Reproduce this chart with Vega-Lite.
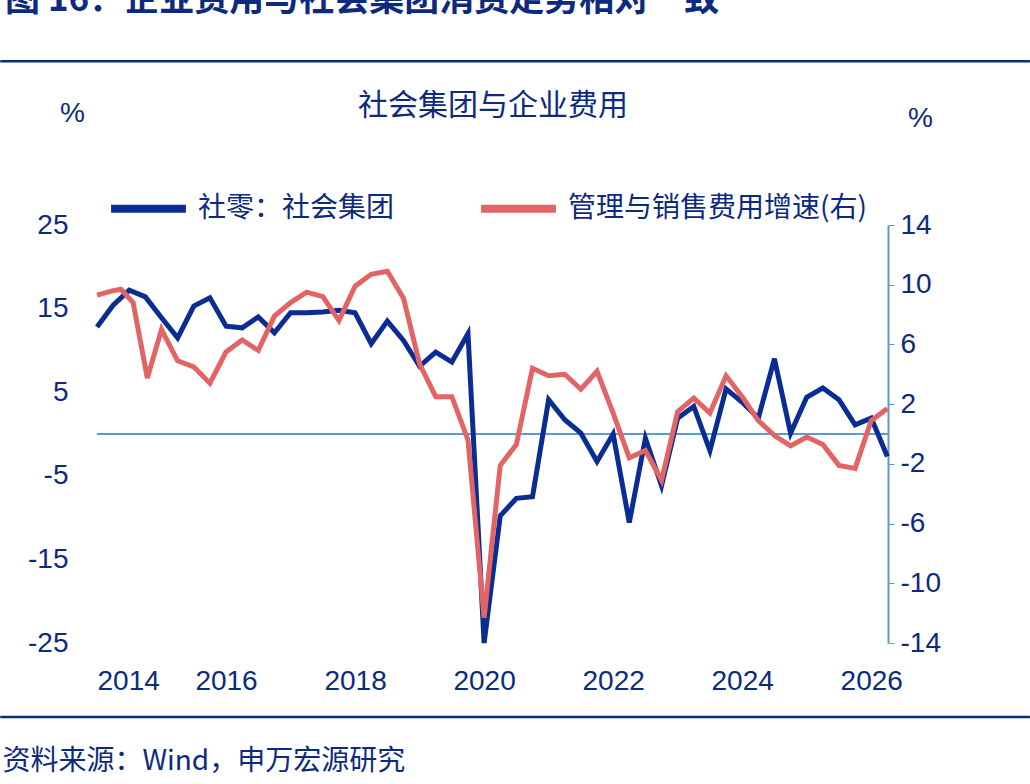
{
  "$schema": "https://vega.github.io/schema/vega-lite/v6.json",
  "autosize": "none",
  "width": 791,
  "height": 418,
  "padding": {"left": 97, "top": 225, "right": 142, "bottom": 141},
  "background": "white",
  "config": {
    "font": "Liberation Sans, Noto Sans CJK SC",
    "view": {"stroke": null},
    "axis": {"grid": false, "labelColor": "#0D2A7D", "titleColor": "#0D2A7D", "labelFontSize": 28, "titleFontSize": 28, "titleFontWeight": "normal", "domainColor": "#5B9BD5", "tickColor": "#5B9BD5", "labelExpr": "replace(datum.label, '−', '-')"}
  },
  "title": {"text": "图 16：企业费用与社会集团消费走势相对一致", "anchor": "start", "frame": "group", "dx": -92, "dy": 10, "offset": 52, "fontSize": 35, "fontWeight": "bold", "color": "#0D2A7D", "font": "Noto Sans CJK SC"},
  "datasets": {
    "blue": [
      {"t": 2014.0, "v": 12.8}, {"t": 2014.25, "v": 15.4}, {"t": 2014.5, "v": 17.2}, {"t": 2014.75, "v": 16.4},
      {"t": 2015.0, "v": 13.9}, {"t": 2015.25, "v": 11.5}, {"t": 2015.5, "v": 15.3}, {"t": 2015.75, "v": 16.3},
      {"t": 2016.0, "v": 12.9}, {"t": 2016.25, "v": 12.7}, {"t": 2016.5, "v": 14.0}, {"t": 2016.75, "v": 12.1},
      {"t": 2017.0, "v": 14.5}, {"t": 2017.25, "v": 14.5}, {"t": 2017.5, "v": 14.6}, {"t": 2017.75, "v": 14.8},
      {"t": 2018.0, "v": 14.5}, {"t": 2018.25, "v": 10.8}, {"t": 2018.5, "v": 13.5}, {"t": 2018.75, "v": 11.2},
      {"t": 2019.0, "v": 8.1}, {"t": 2019.25, "v": 9.8}, {"t": 2019.5, "v": 8.6}, {"t": 2019.75, "v": 12.0},
      {"t": 2020.0, "v": -25.0}, {"t": 2020.25, "v": -9.8}, {"t": 2020.5, "v": -7.7}, {"t": 2020.75, "v": -7.5},
      {"t": 2021.0, "v": 4.1}, {"t": 2021.25, "v": 1.7}, {"t": 2021.5, "v": 0.1}, {"t": 2021.75, "v": -3.3},
      {"t": 2022.0, "v": 0.0}, {"t": 2022.25, "v": -10.6}, {"t": 2022.5, "v": -0.5}, {"t": 2022.75, "v": -6.2},
      {"t": 2023.0, "v": 1.9}, {"t": 2023.25, "v": 3.3}, {"t": 2023.5, "v": -2.0}, {"t": 2023.75, "v": 5.4},
      {"t": 2024.0, "v": 3.8}, {"t": 2024.25, "v": 1.9}, {"t": 2024.5, "v": 9.0}, {"t": 2024.75, "v": 0.1},
      {"t": 2025.0, "v": 4.4}, {"t": 2025.25, "v": 5.5}, {"t": 2025.5, "v": 4.1}, {"t": 2025.75, "v": 1.1},
      {"t": 2026.0, "v": 1.9}, {"t": 2026.25, "v": -2.7}
    ],
    "red": [
      {"t": 2014.0, "v": 9.3}, {"t": 2014.25, "v": 9.6}, {"t": 2014.37, "v": 9.7}, {"t": 2014.56, "v": 8.8},
      {"t": 2014.78, "v": 3.75}, {"t": 2015.0, "v": 7.0}, {"t": 2015.25, "v": 4.9}, {"t": 2015.5, "v": 4.5},
      {"t": 2015.75, "v": 3.4}, {"t": 2016.0, "v": 5.5}, {"t": 2016.25, "v": 6.3}, {"t": 2016.5, "v": 5.6},
      {"t": 2016.75, "v": 7.9}, {"t": 2017.0, "v": 8.8}, {"t": 2017.25, "v": 9.5}, {"t": 2017.5, "v": 9.2},
      {"t": 2017.75, "v": 7.6}, {"t": 2018.0, "v": 9.9}, {"t": 2018.25, "v": 10.7}, {"t": 2018.5, "v": 10.9},
      {"t": 2018.75, "v": 9.1}, {"t": 2019.0, "v": 4.7}, {"t": 2019.25, "v": 2.5}, {"t": 2019.5, "v": 2.5},
      {"t": 2019.75, "v": -0.4}, {"t": 2020.0, "v": -12.3}, {"t": 2020.25, "v": -2.1}, {"t": 2020.5, "v": -0.7},
      {"t": 2020.75, "v": 4.4}, {"t": 2021.0, "v": 3.9}, {"t": 2021.25, "v": 4.0}, {"t": 2021.5, "v": 3.0},
      {"t": 2021.75, "v": 4.2}, {"t": 2022.0, "v": 1.4}, {"t": 2022.25, "v": -1.6}, {"t": 2022.5, "v": -1.1},
      {"t": 2022.75, "v": -3.1}, {"t": 2023.0, "v": 1.5}, {"t": 2023.25, "v": 2.4}, {"t": 2023.5, "v": 1.4},
      {"t": 2023.75, "v": 3.9}, {"t": 2024.0, "v": 2.5}, {"t": 2024.25, "v": 0.9}, {"t": 2024.5, "v": -0.1},
      {"t": 2024.75, "v": -0.8}, {"t": 2025.0, "v": -0.2}, {"t": 2025.25, "v": -0.7}, {"t": 2025.5, "v": -2.1},
      {"t": 2025.75, "v": -2.3}, {"t": 2026.0, "v": 0.9}, {"t": 2026.25, "v": 1.7}
    ],
    "deco": [{"y": 0}]
  },
  "layer": [
    {
      "layer": [
        {
          "data": {"name": "deco"},
          "mark": {"type": "rule", "color": "#5B9BD5", "strokeWidth": 2},
          "encoding": {
            "x": {"datum": 2014, "type": "quantitative", "scale": {"domain": [2014, 2026.26], "nice": false, "zero": false},
              "axis": {"orient": "top", "labels": false, "ticks": false, "domain": false, "title": "社会集团与企业费用", "titleY": -105, "titleFontSize": 30, "titleFont": "Noto Sans CJK SC"}},
            "x2": {"datum": 2026.26},
            "y": {"field": "y", "type": "quantitative", "scale": {"domain": [-25, 25], "nice": false}}
          }
        },
        {
          "data": {"name": "deco"},
          "mark": {"type": "rule", "color": "#0D2A7D", "strokeWidth": 2.5, "clip": false},
          "encoding": {
            "x": {"datum": 2012.5, "type": "quantitative"},
            "x2": {"datum": 2028.46},
            "y": {"datum": 44.6, "type": "quantitative"}
          }
        },
        {
          "data": {"name": "deco"},
          "mark": {"type": "rule", "color": "#0D2A7D", "strokeWidth": 2.5, "clip": false},
          "encoding": {
            "x": {"datum": 2012.5, "type": "quantitative"},
            "x2": {"datum": 2028.46},
            "y": {"datum": -33.85, "type": "quantitative"}
          }
        },
        {
          "data": {"name": "blue"},
          "transform": [{"calculate": "'社零：社会集团'", "as": "s"}],
          "mark": {"type": "line", "strokeWidth": 5},
          "encoding": {
            "x": {"field": "t", "type": "quantitative"},
            "y": {"field": "v", "type": "quantitative",
              "axis": {"values": [-25, -15, -5, 5, 15, 25], "domain": false, "ticks": false, "labelPadding": 29,
                "title": "%", "titleAngle": 0, "titleX": -25, "titleY": -112, "titleAlign": "center", "titleBaseline": "middle"}},
            "color": {"field": "s", "type": "nominal",
              "scale": {"domain": ["社零：社会集团", "管理与销售费用增速(右)"], "range": ["#0A2D94", "#E36464"]},
              "legend": {"orient": "none", "legendX": 10, "legendY": -58, "direction": "horizontal", "title": null, "symbolType": "stroke", "symbolSize": 5600, "symbolStrokeWidth": 8, "labelFontSize": 28, "labelLimit": 0, "labelColor": "#0D2A7D", "labelFont": "Noto Sans CJK SC", "columnPadding": 70, "labelOffset": 8}}
          }
        }
      ]
    },
    {
      "data": {"name": "red"},
      "transform": [{"calculate": "'管理与销售费用增速(右)'", "as": "s"}],
      "mark": {"type": "line", "strokeWidth": 5},
      "encoding": {
        "x": {"field": "t", "type": "quantitative",
          "axis": {"values": [2014, 2016, 2018, 2020, 2022, 2024, 2026], "format": "d", "ticks": false, "domain": false, "labelPadding": 24,
            "title": "资料来源：Wind，申万宏源研究", "titleFont": "Noto Sans CJK SC", "titleAnchor": "start", "titleAlign": "left", "titleX": -95, "titleY": 118, "titleBaseline": "middle"}},
        "y": {"field": "v", "type": "quantitative", "scale": {"domain": [-14, 14], "nice": false},
          "axis": {"orient": "right", "values": [-14, -10, -6, -2, 2, 6, 10, 14], "tickSize": 6, "domainWidth": 2, "labelPadding": 6,
            "title": "%", "titleAngle": 0, "titleX": 32, "titleY": -107, "titleAlign": "center", "titleBaseline": "middle"}},
        "color": {"field": "s", "type": "nominal"}
      }
    }
  ],
  "resolve": {"scale": {"y": "independent"}, "axis": {"x": "independent"}}
}
